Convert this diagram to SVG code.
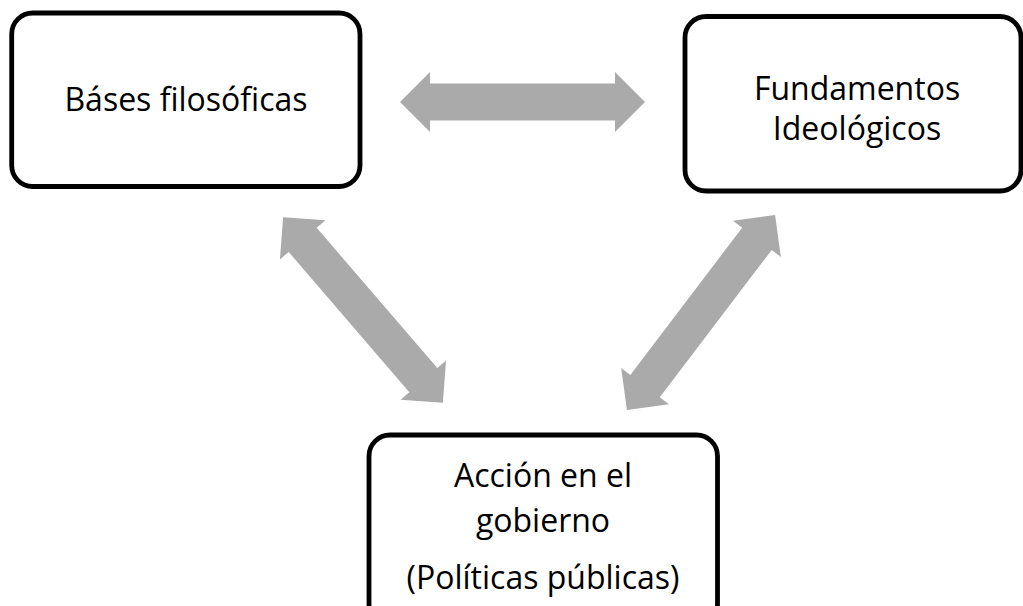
<svg xmlns="http://www.w3.org/2000/svg" width="1023" height="606" viewBox="0 0 1023 606">
<defs>
<style>
.box{fill:#ffffff;stroke:#000000;stroke-width:4.8}
.lbl{font-family:"Open Sans","Noto Sans",sans-serif;font-size:32px;fill:#000000;text-anchor:middle}
.arr{fill:#aaaaaa;stroke:none}
</style>
<path id="dbl" d="M-122.5,0 L-92.5,-30 L-92.5,-18.5 L92.5,-18.5 L92.5,-30 L122.5,0 L92.5,30 L92.5,18.5 L-92.5,18.5 L-92.5,30 Z"/>
</defs>
<rect width="1023" height="606" fill="#ffffff"/>
<g id="connectors">
<use href="#dbl" class="arr" transform="translate(522.5,102)"/>
<use href="#dbl" class="arr" transform="translate(363,310) rotate(49.3)"/>
<use href="#dbl" class="arr" transform="translate(701,312.5) rotate(-52.8)"/>
</g>
<g id="node-bases">
<rect class="box" x="11.7" y="13" width="348.3" height="173.5" rx="21"/>
<text class="lbl" x="186" y="111">Báses filosóficas</text>
</g>
<g id="node-fundamentos">
<rect class="box" x="685" y="16.5" width="336" height="174.5" rx="21"/>
<text class="lbl" x="857" y="100">Fundamentos</text>
<text class="lbl" x="857" y="140">Ideológicos</text>
</g>
<g id="node-accion">
<rect class="box" x="369" y="435" width="348.5" height="190" rx="21"/>
<text class="lbl" x="543" y="487">Acción en el</text>
<text class="lbl" x="543" y="532">gobierno</text>
<text class="lbl" x="543" y="589">(Políticas públicas)</text>
</g>
</svg>
